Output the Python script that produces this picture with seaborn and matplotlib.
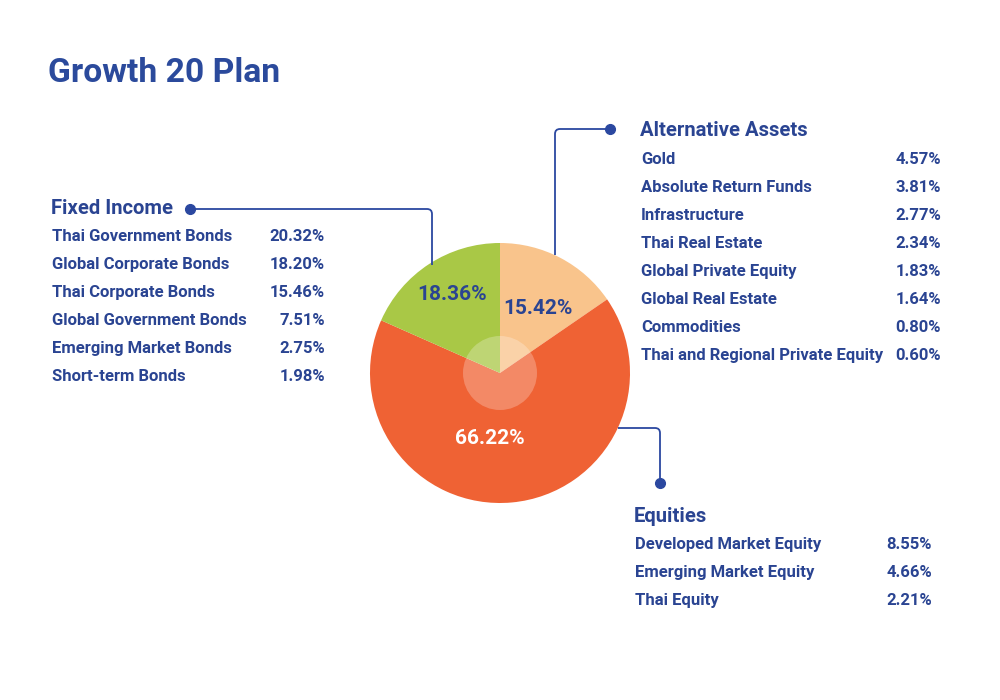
import matplotlib
matplotlib.use("Agg")
import matplotlib.pyplot as plt
from matplotlib.path import Path
from matplotlib.patches import PathPatch, Circle
import seaborn as sns

# data
title = "Growth 20 Plan"
slice_labels = ["15.42%", "66.22%", "18.36%"]
slice_values = [15.42, 66.22, 18.36]
slice_colors = ["#f9c48c", "#ef6234", "#a9c846"]

fixed_names = ["Thai Government Bonds", "Global Corporate Bonds", "Thai Corporate Bonds",
               "Global Government Bonds", "Emerging Market Bonds", "Short-term Bonds"]
fixed_values = ["20.32%", "18.20%", "15.46%", "7.51%", "2.75%", "1.98%"]

alt_names = ["Gold", "Absolute Return Funds", "Infrastructure", "Thai Real Estate",
             "Global Private Equity", "Global Real Estate", "Commodities",
             "Thai and Regional Private Equity"]
alt_values = ["4.57%", "3.81%", "2.77%", "2.34%", "1.83%", "1.64%", "0.80%", "0.60%"]

eq_names = ["Developed Market Equity", "Emerging Market Equity", "Thai Equity"]
eq_values = ["8.55%", "4.66%", "2.21%"]

BLUE = "#2a4492"
LINE = "#2b48a0"

sns.set_theme(style="white")
plt.rcParams["font.family"] = ["Roboto", "DejaVu Sans"]

fig = plt.figure(figsize=(10, 7), dpi=100)
ax = fig.add_axes([0, 0, 1, 1])

# pie (y axis is flipped, so -90 is top and counterclock shows clockwise)
cx, cy, r = 500, 373, 130
ax.pie(slice_values, colors=slice_colors, startangle=-90, counterclock=True,
       center=(cx, cy), radius=r, wedgeprops=dict(linewidth=0))
ax.set_xlim(0, 1000)
ax.set_ylim(700, 0)
ax.set_aspect("equal")
ax.axis("off")
ax.add_patch(Circle((cx, cy), 37, facecolor="white", alpha=0.25, lw=0, zorder=3))

lab_kw = dict(fontsize=15, fontweight="bold", ha="center", va="center_baseline", zorder=4)
ax.text(538, 307, slice_labels[0], color=BLUE, **lab_kw)
ax.text(490, 436, slice_labels[1], color="white", **lab_kw)
ax.text(452, 292, slice_labels[2], color=BLUE, **lab_kw)


def leader(pts, rad=5):
    # polyline with one rounded corner
    (x0, y0), (x1, y1), (x2, y2) = pts
    sx = 1 if x1 > x0 else -1
    sy = 1 if y2 > y1 else -1
    verts = [(x0, y0), (x1 - sx * rad, y1), (x1, y1), (x1, y1 + sy * rad), (x2, y2)]
    codes = [Path.MOVETO, Path.LINETO, Path.CURVE3, Path.CURVE3, Path.LINETO]
    ax.add_patch(PathPatch(Path(verts, codes), fill=False, edgecolor=LINE, lw=1.3, zorder=5))


leader([(190, 209), (432, 209), (432, 265)])
ax.plot(190, 209, "o", color=LINE, ms=7, zorder=6)
leader([(610, 129), (555, 129), (555, 255)])
ax.plot(610, 129, "o", color=LINE, ms=7, zorder=6)
leader([(618, 428), (660, 428), (660, 483)])
ax.plot(660, 483, "o", color=LINE, ms=7, zorder=6)

ax.text(48, 69, title, color="#2b4a9c", fontsize=24.2, fontweight="bold", va="center_baseline")


def block(x_name, x_val, y_head, head, names, values):
    ax.text(x_name - 1, y_head, head, color=BLUE, fontsize=14.6, fontweight="bold",
            va="center_baseline")
    for i, (n, v) in enumerate(zip(names, values)):
        y = y_head + 29 + 28 * i
        ax.text(x_name, y, n, color=BLUE, fontsize=12, fontweight="bold", va="center_baseline")
        ax.text(x_val, y, v, color=BLUE, fontsize=12, fontweight="bold",
                va="center_baseline", ha="right")


block(52, 325, 206, "Fixed Income", fixed_names, fixed_values)
block(641, 941, 129, "Alternative Assets", alt_names, alt_values)
block(635, 932, 514, "Equities", eq_names, eq_values)

fig.savefig("out.png", dpi=100, facecolor="white")
